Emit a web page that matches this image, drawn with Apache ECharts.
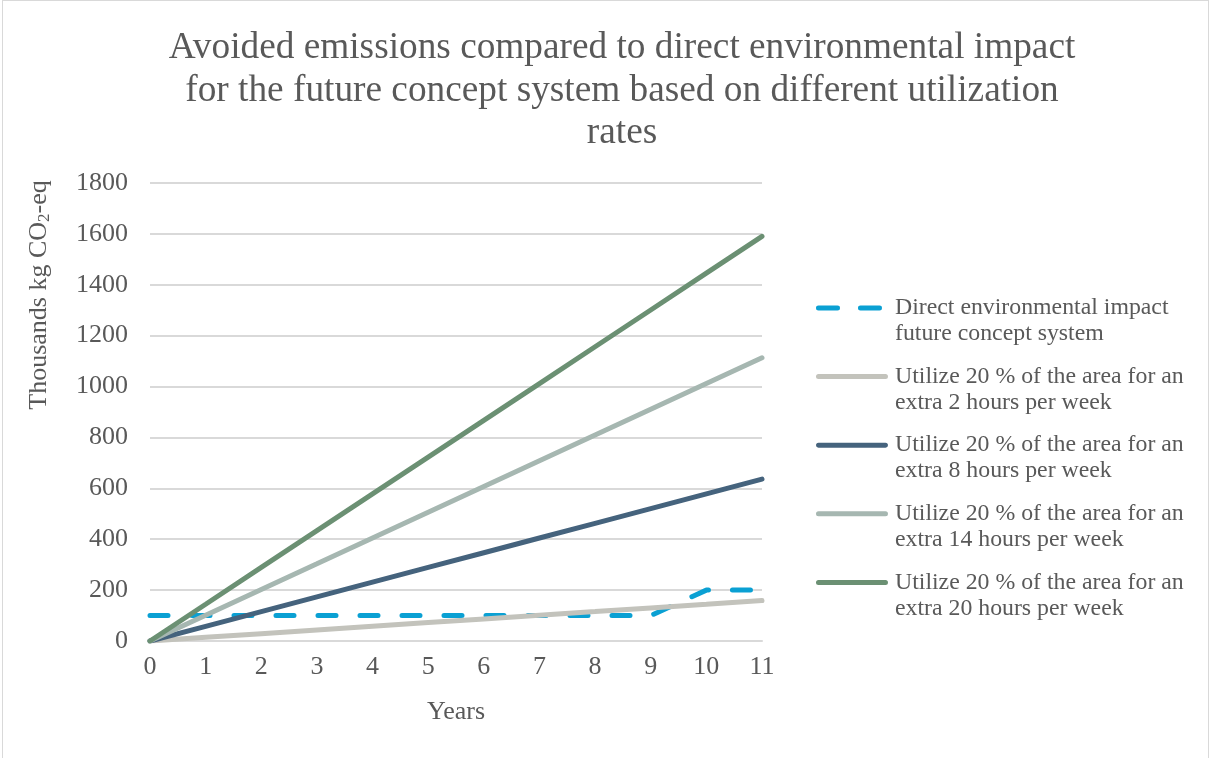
<!DOCTYPE html>
<html>
<head>
<meta charset="utf-8">
<script src="https://cdn.jsdelivr.net/npm/echarts@6/dist/echarts.min.js"></script>
<style>
  html, body { margin: 0; padding: 0; background: #ffffff; }
  #chart { position: absolute; left: 0; top: 0; width: 1212px; height: 758px; }
  #frame { position: absolute; left: 2px; top: 0; width: 1207px; height: 770px;
           border: 1px solid #d9d9d9; box-sizing: border-box; pointer-events: none; }
</style>
</head>
<body>
<div id="chart"></div>
<div id="frame"></div>
<script>
// Years after installation
const years = ['0', '1', '2', '3', '4', '5', '6', '7', '8', '9', '10', '11'];

// Thousands kg CO2-eq, cumulative
const directImpact = [100, 100, 100, 100, 100, 100, 100, 100, 100, 100, 200, 200];
const extra2h  = [0, 14.5, 28.9, 43.4, 57.8, 72.3, 86.7, 101.2, 115.6, 130.1, 144.5, 159];
const extra8h  = [0, 57.8, 115.6, 173.5, 231.3, 289.1, 346.9, 404.7, 462.5, 520.4, 578.2, 636];
const extra14h = [0, 101.2, 202.4, 303.5, 404.7, 505.9, 607.1, 708.3, 809.5, 910.6, 1011.8, 1113];
const extra20h = [0, 144.5, 289.1, 433.6, 578.2, 722.7, 867.3, 1011.8, 1156.4, 1300.9, 1445.5, 1590];

const seriesNames = [
  'Direct environmental impact\nfuture concept system',
  'Utilize 20 % of the area for an\nextra 2 hours per week',
  'Utilize 20 % of the area for an\nextra 8 hours per week',
  'Utilize 20 % of the area for an\nextra 14 hours per week',
  'Utilize 20 % of the area for an\nextra 20 hours per week'
];
const seriesColors = ['#0aa0d3', '#c3c3bc', '#45637d', '#a6b7b1', '#6b9073'];
const seriesValues = [directImpact, extra2h, extra8h, extra14h, extra20h];

// Legend keys: a rounded stroke sitting level with the first text line
// (a near-invisible speck at the bottom right sets the key's box size).
const keySpeck = ' M73.99,31 h0.01 v0.01 h-0.01 Z';
const solidKey = 'path://M2.5,0 h67 a2.5,2.5 0 0 1 0,5 h-67 a2.5,2.5 0 0 1 0,-5 Z' + keySpeck;
const dashedKey = 'path://M2.5,0 h19 a2.5,2.5 0 0 1 0,5 h-19 a2.5,2.5 0 0 1 0,-5 Z' +
                  ' M44.5,0 h19 a2.5,2.5 0 0 1 0,5 h-19 a2.5,2.5 0 0 1 0,-5 Z' + keySpeck;

const serif = '"Liberation Serif", "Times New Roman", serif';
const textGray = '#595959';

const chart = echarts.init(document.getElementById('chart'), null, { renderer: 'canvas' });

chart.setOption({
  backgroundColor: '#ffffff',
  animation: false,
  title: {
    text: 'Avoided emissions compared to direct environmental impact\nfor the future concept system based on different utilization\nrates',
    left: 617,
    textAlign: 'center',
    top: 22,
    textStyle: {
      fontFamily: serif,
      fontWeight: 'normal',
      fontSize: 37.3,
      lineHeight: 42.5,
      color: textGray
    }
  },
  grid: { left: 150, right: 450, top: 183, bottom: 117, containLabel: false },
  legend: {
    orient: 'vertical',
    left: 816,
    top: 295,
    padding: 0,
    itemWidth: 74,
    itemHeight: 31,
    itemGap: 16.6,
    data: seriesNames.map((name, i) => ({ name, icon: i === 0 ? dashedKey : solidKey })),
    textStyle: {
      fontFamily: serif,
      fontSize: 23.8,
      lineHeight: 26,
      color: textGray
    }
  },
  xAxis: {
    type: 'category',
    data: years,
    boundaryGap: false,
    name: 'Years',
    nameLocation: 'middle',
    nameGap: 58,
    nameTextStyle: { fontFamily: serif, fontSize: 26, color: textGray },
    axisLine: { lineStyle: { color: '#d9d9d9', width: 2 } },
    axisTick: { show: false },
    axisLabel: { fontFamily: serif, fontSize: 26, color: textGray, margin: 13 }
  },
  yAxis: {
    type: 'value',
    min: 0,
    max: 1800,
    interval: 200,
    name: '{t|Thousands kg CO}{s|2}{t|-eq}',
    nameLocation: 'middle',
    nameGap: 97,
    nameRotate: 90,
    nameTextStyle: {
      padding: [0, 0, 0, 234],
      rich: {
        t: { fontFamily: serif, fontSize: 26, color: textGray },
        s: { fontFamily: serif, fontSize: 17, color: textGray, padding: [10, 0, 0, 0] }
      }
    },
    axisLine: { show: false },
    axisTick: { show: false },
    splitLine: { lineStyle: { color: '#d9d9d9', width: 2 } },
    axisLabel: {
      fontFamily: serif, fontSize: 26, color: textGray, margin: 22,
      formatter: (v) => String(v)
    }
  },
  series: seriesValues.map((vals, i) => ({
    name: seriesNames[i],
    type: 'line',
    data: vals,
    symbol: 'none',
    color: seriesColors[i],
    itemStyle: { color: seriesColors[i] },
    lineStyle: {
      color: seriesColors[i],
      width: 5,
      type: i === 0 ? [18, 24] : 'solid',
      cap: 'round'
    },
    z: 2 + i
  }))
});
</script>
</body>
</html>
